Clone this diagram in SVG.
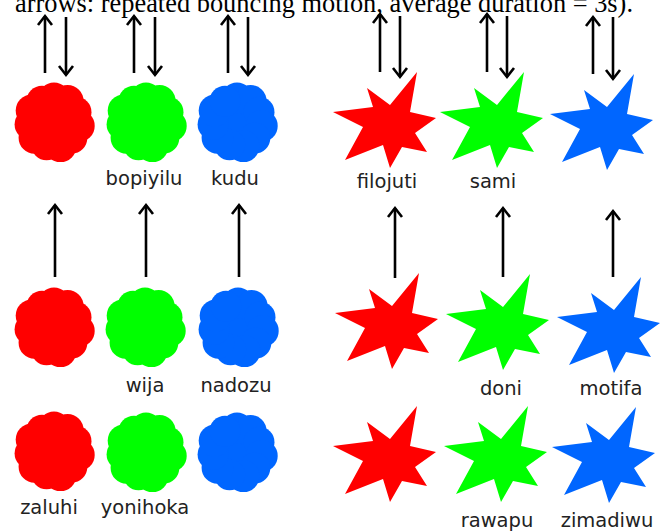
<svg xmlns="http://www.w3.org/2000/svg" xmlns:xlink="http://www.w3.org/1999/xlink" width="660" height="531" viewBox="0 0 660 531">
<style>
.lbl{font-family:"DejaVu Sans","Verdana",sans-serif;font-size:19.5px;fill:#222;text-anchor:middle}
.ttl{font-family:"Liberation Serif","Times New Roman",serif;font-size:26.4px;fill:#000}
.arr{stroke:#000;stroke-width:2.6;fill:none;marker-end:url(#head)}
.red{fill:#ff0000}.green{fill:#00ff00}.blue{fill:#0066ff}
</style>
<defs>
<marker id="head" markerUnits="userSpaceOnUse" orient="auto" viewBox="-12 -10 15 20" refX="0" refY="0" markerWidth="15" markerHeight="20">
<path d="M-9,-7 L0,0 L-9,7" fill="none" stroke="#000" stroke-width="2.6" stroke-linejoin="miter"/>
</marker>
<g id="blob">
<circle r="34"/>
<circle cx="0" cy="-24" r="15.5"/>
<circle cx="13.6" cy="-21" r="16"/>
<circle cx="22" cy="-9.8" r="15.5"/>
<circle cx="24.7" cy="3.9" r="16"/>
<circle cx="17.8" cy="16" r="15.5"/>
<circle cx="6.5" cy="24.1" r="16"/>
<circle cx="-7.4" cy="22.8" r="15.5"/>
<circle cx="-19.4" cy="15.7" r="16"/>
<circle cx="-23.9" cy="2.5" r="15.5"/>
<circle cx="-22.3" cy="-11.4" r="16"/>
<circle cx="-12" cy="-20.8" r="15.5"/>
</g>
<path id="star" d="M30,-50 L23,-10 L49,-4 L28,11 L40,30 L15,25 L3,46 L-4,23 L-42,38 L-24,5 L-54,-10 L-14,-15 L-20,-34 L3,-17 Z"/>
</defs>
<rect width="660" height="531" fill="#fff"/>
<text class="ttl" x="15" y="12">arrows: repeated bouncing motion, average duration = 3s).</text>

<g id="connectors">
<line class="arr" x1="45" y1="73" x2="45" y2="16"/>
<line class="arr" x1="66" y1="17" x2="66" y2="75"/>
<line class="arr" x1="134" y1="73" x2="134" y2="16"/>
<line class="arr" x1="155" y1="17" x2="155" y2="75"/>
<line class="arr" x1="228" y1="73" x2="228" y2="16"/>
<line class="arr" x1="248" y1="17" x2="248" y2="75"/>
<line class="arr" x1="380" y1="72" x2="380" y2="14"/>
<line class="arr" x1="400" y1="16" x2="400" y2="77"/>
<line class="arr" x1="487" y1="72" x2="487" y2="14"/>
<line class="arr" x1="507" y1="16" x2="507" y2="77"/>
<line class="arr" x1="593" y1="74" x2="593" y2="17"/>
<line class="arr" x1="613" y1="17" x2="613" y2="79"/>
<line class="arr" x1="55" y1="277" x2="55" y2="205"/>
<line class="arr" x1="146" y1="277" x2="146" y2="205"/>
<line class="arr" x1="239" y1="277" x2="239" y2="205"/>
<line class="arr" x1="395" y1="278" x2="395" y2="208"/>
<line class="arr" x1="503" y1="277" x2="503" y2="208"/>
<line class="arr" x1="613" y1="277" x2="613" y2="211"/>
</g>

<g id="blob-red-1"><use xlink:href="#blob" href="#blob" class="red" transform="translate(54,122)"/></g>
<g id="blob-green-1"><use xlink:href="#blob" href="#blob" class="green" transform="translate(146,122)"/><text class="lbl" x="144" y="185">bopiyilu</text></g>
<g id="blob-blue-1"><use xlink:href="#blob" href="#blob" class="blue" transform="translate(237,122)"/><text class="lbl" x="235" y="185">kudu</text></g>
<g id="star-red-1"><use xlink:href="#star" href="#star" class="red" transform="translate(387,122)"/><text class="lbl" x="387" y="188">filojuti</text></g>
<g id="star-green-1"><use xlink:href="#star" href="#star" class="green" transform="translate(494,122)"/><text class="lbl" x="493" y="188">sami</text></g>
<g id="star-blue-1"><use xlink:href="#star" href="#star" class="blue" transform="translate(604,124)"/></g>

<g id="blob-red-2"><use xlink:href="#blob" href="#blob" class="red" transform="translate(54,327)"/></g>
<g id="blob-green-2"><use xlink:href="#blob" href="#blob" class="green" transform="translate(145,327)"/><text class="lbl" x="145" y="392">wija</text></g>
<g id="blob-blue-2"><use xlink:href="#blob" href="#blob" class="blue" transform="translate(238,327)"/><text class="lbl" x="236" y="392">nadozu</text></g>
<g id="star-red-2"><use xlink:href="#star" href="#star" class="red" transform="translate(389,323)"/></g>
<g id="star-green-2"><use xlink:href="#star" href="#star" class="green" transform="translate(500,324)"/><text class="lbl" x="501" y="395">doni</text></g>
<g id="star-blue-2"><use xlink:href="#star" href="#star" class="blue" transform="translate(611,327)"/><text class="lbl" x="611" y="395">motifa</text></g>

<g id="blob-red-3"><use xlink:href="#blob" href="#blob" class="red" transform="translate(54,451)"/><text class="lbl" x="49" y="514">zaluhi</text></g>
<g id="blob-green-3"><use xlink:href="#blob" href="#blob" class="green" transform="translate(146,452)"/><text class="lbl" x="145" y="514">yonihoka</text></g>
<g id="blob-blue-3"><use xlink:href="#blob" href="#blob" class="blue" transform="translate(237,452)"/></g>
<g id="star-red-3"><use xlink:href="#star" href="#star" class="red" transform="translate(387,456)"/></g>
<g id="star-green-3"><use xlink:href="#star" href="#star" class="green" transform="translate(498,456)"/><text class="lbl" x="497" y="527">rawapu</text></g>
<g id="star-blue-3"><use xlink:href="#star" href="#star" class="blue" transform="translate(606,457)"/><text class="lbl" x="607" y="527">zimadiwu</text></g>
</svg>
